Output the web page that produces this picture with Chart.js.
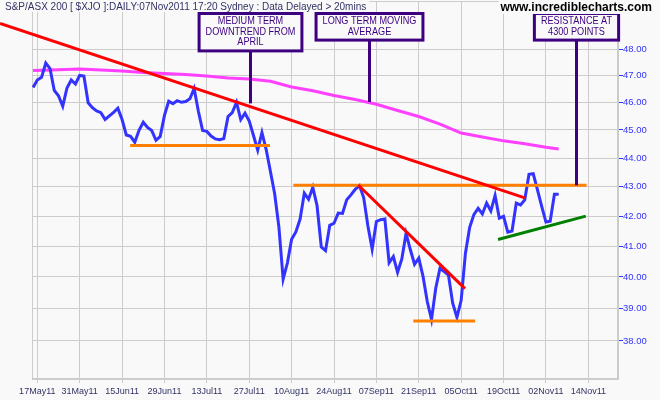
<!DOCTYPE html>
<html>
<head>
<meta charset="utf-8">
<title>S&amp;P/ASX 200 daily</title>
<script src="https://cdn.jsdelivr.net/npm/chart.js@4.4.0/dist/chart.umd.min.js"></script>
<style>
  html, body { margin: 0; padding: 0; background: #f9f9f9; }
  #wrap { width: 660px; height: 400px; }
</style>
</head>
<body>
<div id="wrap"><canvas id="xjo" width="660" height="400"></canvas></div>
<script>
// x = trading session, 0 = 17 May 2011, a date label every 10 sessions
const dateLabels = ["17May11", "31May11", "15Jun11", "29Jun11", "13Jul11", "27Jul11", "10Aug11",
  "24Aug11", "07Sep11", "21Sep11", "05Oct11", "19Oct11", "02Nov11", "14Nov11"];
const priceTicks = [38, 39, 40, 41, 42, 43, 44, 45, 46, 47, 48];

// daily close (index / 100), first one is session -1
const firstDay = -1;
const closes = [
  46.56, 46.84, 46.94, 47.48, 47.27, 46.45, 46.25, 45.86, 46.54, 46.84,
  46.69, 47.01, 46.99, 45.99, 45.81, 45.69, 45.63, 45.38, 45.51, 45.64,
  45.79, 45.38, 44.82, 44.77, 44.56, 44.99, 45.28, 45.09, 44.98, 44.63,
  44.77, 45.53, 46.05, 45.96, 46.07, 46.01, 46.04, 46.14, 46.52, 45.68,
  44.98, 44.95, 44.78, 44.68, 44.65, 44.69, 45.49, 45.63, 46.01, 45.38,
  45.61, 45.32, 44.80, 44.28, 44.91, 44.30, 43.53, 42.76, 41.63, 39.93,
  40.45, 41.23, 41.47, 41.90, 42.78, 42.57, 42.98, 42.35, 40.97, 40.85,
  41.69, 41.76, 42.10, 42.09, 42.55, 42.72, 42.91, 43.04, 42.63, 41.67,
  40.90, 41.82, 41.88, 41.90, 40.46, 40.66, 40.15, 40.58, 41.42, 40.89,
  40.41, 40.61, 40.02, 39.22, 38.66, 39.64, 40.28, 40.17, 40.06, 39.17,
  38.73, 39.26, 40.76, 41.62, 42.05, 42.26, 42.07, 42.44, 42.17, 42.70,
  41.93, 41.99, 41.46, 41.50, 42.44, 42.38, 42.55, 43.43, 43.45, 42.89,
  42.33, 41.80, 41.83, 42.74, 42.74
];

// long term moving average
const avgDays = [-1, 5, 10, 15, 20, 25, 30, 35, 40, 45, 50, 55, 60, 65, 70, 75, 80, 85, 90, 95, 100, 105, 110, 115, 120, 123];
const avgValues = [47.20, 47.23, 47.25, 47.22, 47.18, 47.12, 47.08, 47.05, 46.99, 46.91, 46.88, 46.79, 46.58,
  46.44, 46.26, 46.11, 45.94, 45.71, 45.49, 45.21, 44.89, 44.75, 44.61, 44.51, 44.38, 44.32];

// hand drawn lines, [session, value]
const longDowntrend = [[-8.8, 49.01], [115.0, 42.62]];
const shortDowntrend = [[75.7, 43.06], [100.9, 39.63]];
const julySupport = [[21.9, 44.44], [54.9, 44.44]];
const resistance = [[60.4, 43.05], [129.6, 43.05]];
const septBottom = [[88.7, 38.61], [103.3, 38.61]];
const octSupport = [[108.7, 41.22], [129.4, 42.00]];

const notes = [
  { lines: ["MEDIUM TERM", "DOWNTREND FROM", "APRIL"], day: 50.1, value: 45.97 },
  { lines: ["LONG TERM MOVING", "AVERAGE"], day: 78.3, value: 46.02 },
  { lines: ["RESISTANCE AT", "4300 POINTS"], day: 127.2, value: 43.05 },
];

const title = "S&P/ASX 200 [ $XJO ]:DAILY:07Nov2011 17:20 Sydney : Data Delayed > 20mins";
const site = "www.incrediblecharts.com";

const bg = "#f9f9f9";
const gridColor = "#cccccc";
const noteColor = "#3c0080";
const sans = "'Liberation Sans', Arial, sans-serif";

const pts = arr => arr.map(p => ({ x: p[0], y: p[1] }));

function trend(data, color) {
    return {
        data: pts(data),
        borderColor: color,
        borderWidth: 3,
        pointRadius: 0,
        clip: false,
    };
}

const overlay = {
    id: "overlay",
    beforeDraw(chart) {
        const ctx = chart.ctx;
        ctx.save();
        ctx.fillStyle = bg;
        ctx.fillRect(0, 0, chart.width, chart.height);
        ctx.restore();
    },
    beforeDatasetsDraw(chart) {
        const ctx = chart.ctx;
        const a = chart.chartArea;
        ctx.save();
        ctx.strokeStyle = gridColor;
        ctx.lineWidth = 1;
        ctx.strokeRect(a.left + 0.5, a.top + 0.5, a.right - a.left - 1, a.bottom - a.top - 1);
        ctx.restore();
    },
    afterDatasetsDraw(chart) {
        const ctx = chart.ctx;
        const xs = chart.scales.x;
        const ys = chart.scales.y;
        const squeeze = 0.87;
        ctx.save();

        // annotation boxes with their pointers
        ctx.font = "10.5px " + sans;
        ctx.textAlign = "center";
        ctx.textBaseline = "middle";
        notes.forEach(n => {
            const cx = Math.round(xs.getPixelForValue(n.day)) + 0.5;
            const w = Math.max(...n.lines.map(l => ctx.measureText(l).width)) * squeeze + 13;
            const top = 13.5;
            const bottom = top + n.lines.length * 10.8 + 5;
            ctx.fillStyle = bg;
            ctx.fillRect(cx - w / 2, top, w, bottom - top);
            ctx.strokeStyle = noteColor;
            ctx.lineWidth = 3;
            ctx.strokeRect(cx - w / 2, top, w, bottom - top);
            ctx.beginPath();
            ctx.moveTo(cx, bottom);
            ctx.lineTo(cx, ys.getPixelForValue(n.value));
            ctx.stroke();
            ctx.fillStyle = noteColor;
            n.lines.forEach((l, i) => {
                ctx.save();
                ctx.translate(cx, top + 7.5 + i * 10.8);
                ctx.scale(squeeze, 1);
                ctx.fillText(l, 0, 0);
                ctx.restore();
            });
        });

        // header text
        ctx.textAlign = "left";
        ctx.font = "10px " + sans;
        const tw = ctx.measureText(title).width;
        ctx.fillStyle = bg;
        ctx.fillRect(0, 0, tw + 8, 12);
        ctx.fillStyle = "#333366";
        ctx.fillText(title, 5, 7);

        ctx.font = "bold 12px " + sans;
        const sw = ctx.measureText(site).width;
        ctx.fillStyle = bg;
        ctx.fillRect(650 - sw, 0, sw + 10, 14);
        ctx.fillStyle = "#000000";
        ctx.textAlign = "right";
        ctx.fillText(site, 652, 8);
        ctx.restore();
    }
};

new Chart(document.getElementById("xjo"), {
    type: "line",
    data: {
        datasets: [
            trend(longDowntrend, "#ff0000"),
            trend(shortDowntrend, "#ff0000"),
            trend(octSupport, "#008000"),
            trend(julySupport, "#ff8000"),
            trend(resistance, "#ff8000"),
            trend(septBottom, "#ff8000"),
            {
                data: closes.map((v, i) => ({ x: firstDay + i, y: v })),
                borderColor: "#3333ff",
                borderWidth: 3,
                pointRadius: 0,
            },
            {
                data: avgDays.map((d, i) => ({ x: d, y: avgValues[i] })),
                borderColor: "#ff40ff",
                borderWidth: 3,
                pointRadius: 0,
            },
        ],
    },
    options: {
        responsive: false,
        animation: false,
        devicePixelRatio: 1,
        layout: { padding: { left: 32, top: 1, right: 0, bottom: 0 } },
        plugins: { legend: { display: false }, tooltip: { enabled: false } },
        scales: {
            x: {
                type: "linear",
                min: -1.25,
                max: 137,
                afterBuildTicks: s => { s.ticks = dateLabels.map((_, i) => ({ value: i * 10 })); },
                afterFit: s => { s.height = 21; s.paddingLeft = 0; s.paddingRight = 0; },
                grid: { color: gridColor, tickLength: 4, tickColor: gridColor },
                border: { color: gridColor },
                ticks: {
                    autoSkip: false,
                    maxRotation: 0,
                    padding: 3,
                    color: "#333366",
                    font: { family: sans, size: 9 },
                    callback: v => dateLabels[Math.round(v / 10)],
                },
            },
            y: {
                type: "logarithmic",
                position: "right",
                min: 36.86,
                max: 49.9,
                afterBuildTicks: s => { s.ticks = priceTicks.map(v => ({ value: v })); },
                afterFit: s => { s.width = 42; s.paddingTop = 0; s.paddingBottom = 0; },
                grid: { color: gridColor, tickLength: 5, tickColor: "#3333ff" },
                border: { color: gridColor },
                ticks: {
                    padding: 0,
                    color: "#3333ff",
                    font: { family: sans, size: 9.5 },
                    callback: v => v.toFixed(2),
                },
            },
        },
    },
    plugins: [overlay],
});
</script>
</body>
</html>
